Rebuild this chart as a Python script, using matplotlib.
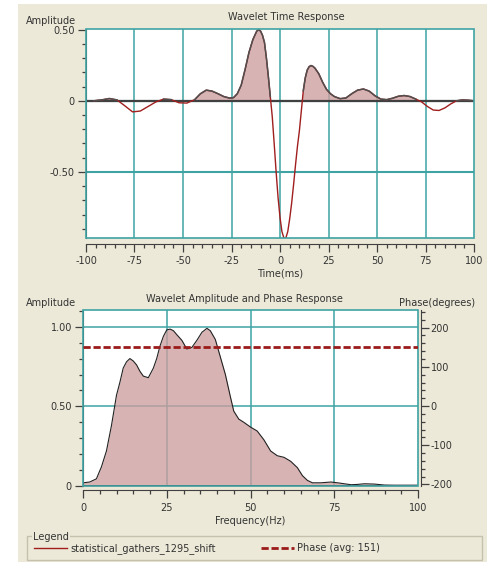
import matplotlib
matplotlib.use("Agg")
import matplotlib.pyplot as plt
import numpy as np
from matplotlib.patches import Rectangle
from matplotlib.ticker import MultipleLocator, FuncFormatter

# wavelet time response
time_ms = [-96, -92, -88, -84, -80, -76, -72, -68, -64, -60, -56, -52, -48, -44,
           -41, -38, -35, -32, -29, -26, -24, -22, -20, -18, -16, -14, -12, -11,
           -10, -9, -8, -7, -6, -5, -4, -3, -2, -1, 0, 1, 2, 3, 4, 5, 6, 7, 8,
           9, 10, 11, 12, 13, 14, 15, 16, 17, 18, 20, 22, 24, 26, 28, 31, 34,
           37, 40, 43, 46, 49, 52, 55, 58, 61, 64, 67, 70, 73, 76, 79, 82, 85,
           88, 91, 94, 97, 100]
amplitude = [0.000, 0.006, 0.016, 0.006, -0.035, -0.078, -0.072, -0.040, -0.008,
             0.012, 0.008, -0.014, -0.016, 0.008, 0.050, 0.075, 0.068, 0.050,
             0.030, 0.019, 0.022, 0.050, 0.110, 0.220, 0.340, 0.430, 0.490,
             0.500, 0.490, 0.460, 0.410, 0.300, 0.170, 0.030, -0.110, -0.300,
             -0.500, -0.680, -0.820, -0.920, -0.965, -0.965, -0.920, -0.830,
             -0.720, -0.590, -0.450, -0.320, -0.210, -0.070, 0.070, 0.160,
             0.215, 0.240, 0.248, 0.242, 0.230, 0.190, 0.130, 0.080, 0.050,
             0.030, 0.015, 0.020, 0.050, 0.075, 0.083, 0.068, 0.035, 0.012,
             0.008, 0.018, 0.032, 0.037, 0.030, 0.012, -0.008, -0.040, -0.065,
             -0.068, -0.050, -0.022, 0.000, 0.006, 0.004, 0.000]

# amplitude spectrum
freq_hz = [0, 2, 4, 5.5, 7, 8.5, 10, 11, 12, 13, 14, 15, 16, 17, 18, 19.5, 21,
           22, 23, 24, 25, 26, 27, 28, 29.5, 31, 32.5, 34, 35.5, 37, 38, 39.5,
           41, 42.5, 44, 45, 46.5, 48, 50, 52, 54, 56, 58, 60, 62, 64, 65.5, 67,
           68.5, 71, 74, 76, 78, 80, 82, 84, 87, 90, 93, 96, 100]
spec_amp = [0.020, 0.025, 0.045, 0.12, 0.22, 0.38, 0.57, 0.65, 0.74, 0.78, 0.80,
            0.785, 0.76, 0.72, 0.69, 0.68, 0.74, 0.80, 0.88, 0.94, 0.98, 0.985,
            0.975, 0.95, 0.915, 0.86, 0.87, 0.915, 0.965, 0.99, 0.975, 0.92,
            0.81, 0.70, 0.56, 0.47, 0.42, 0.40, 0.37, 0.345, 0.29, 0.22, 0.19,
            0.18, 0.155, 0.115, 0.065, 0.035, 0.02, 0.02, 0.025, 0.02, 0.014,
            0.008, 0.01, 0.014, 0.012, 0.006, 0.005, 0.005, 0.005]
phase_avg = 151
series_name = "statistical_gathers_1295_shift"

W, H = 487, 562
BG = "#ECE9D8"
TEAL = "#3FA3A3"
DARK = "#404040"
FILL = "#CD9E9E"
RED = "#A01E1E"
TXT = "#333333"

plt.rcParams["font.family"] = "DejaVu Sans"
plt.rcParams["font.size"] = 7
plt.rcParams["axes.unicode_minus"] = False


def fx(px):
    return px / W


def fy(py):
    return 1 - py / H


def style_axis(ax, bottom_off):
    for s in ["top", "right"]:
        ax.spines[s].set_visible(False)
    ax.spines["left"].set_color(DARK)
    ax.spines["bottom"].set_color(DARK)
    ax.spines["bottom"].set_position(("outward", bottom_off))
    ax.add_patch(Rectangle((0, 0), 1, 1, transform=ax.transAxes, fill=False,
                           edgecolor=TEAL, lw=1.2, clip_on=False, zorder=5))
    ax.tick_params(which="major", direction="out", length=6, width=0.9,
                   color=DARK, labelcolor=TXT, pad=2)
    ax.tick_params(which="minor", direction="out", length=3, width=0.9, color=DARK)
    ax.tick_params(axis="x", pad=3)


def amp_fmt(v, _):
    return "0" if abs(v) < 1e-9 else f"{v:.2f}"


fig = plt.figure(figsize=(W / 100, H / 100), dpi=100)
fig.patch.set_facecolor("white")
fig.add_artist(Rectangle((fx(18), 0), 1 - fx(18), fy(4), transform=fig.transFigure,
                         facecolor=BG, edgecolor="none", zorder=-10))

# ---- top: time response
ax1 = fig.add_axes([fx(86), fy(238), fx(474 - 86), (238 - 29) / H])
t = np.array(time_ms)
a = np.array(amplitude)
ax1.set_xlim(-100, 100)
ax1.set_ylim(-0.965, 0.505)
for xv in [-75, -50, -25, 0, 25, 50, 75]:
    ax1.axvline(xv, color=TEAL, lw=1.1, zorder=0.5)
for yv in [0, -0.5]:
    ax1.axhline(yv, color=TEAL, lw=1.5, zorder=0.5)
ax1.fill_between(t, a, 0, where=a > 0, interpolate=True, color=FILL, alpha=0.78,
                 lw=0, zorder=1)
ax1.axhline(0, color=DARK, lw=1.6, zorder=2)
line_main, = ax1.plot(t, a, color=RED, lw=1.0, zorder=3)
ax1.plot(t, np.where(a >= 0, a, np.nan), color="#505050", lw=1.1, zorder=3.5)
ax1.xaxis.set_major_locator(MultipleLocator(25))
ax1.xaxis.set_minor_locator(MultipleLocator(5))
ax1.yaxis.set_major_locator(MultipleLocator(0.5))
ax1.yaxis.set_minor_locator(MultipleLocator(0.1))
ax1.yaxis.set_major_formatter(FuncFormatter(amp_fmt))
style_axis(ax1, 4)

fig.text(fx(286), fy(17), "Wavelet Time Response", ha="center", va="center", color=TXT)
fig.text(fx(26), fy(21.5), "Amplitude", ha="left", va="center", color=TXT)
fig.text(fx(280), fy(274), "Time(ms)", ha="center", va="center", color=TXT)

# ---- bottom: amplitude and phase spectrum
ax2 = fig.add_axes([fx(83), fy(486), fx(418 - 83), (486 - 310) / H])
ax2.set_xlim(0, 100)
ax2.set_ylim(0, 1.105)
for xv in [25, 50, 75]:
    ax2.axvline(xv, color=TEAL, lw=1.1, zorder=0.5)
for yv in [0.5, 1.0]:
    ax2.axhline(yv, color=TEAL, lw=1.1, zorder=0.5)
ax2.fill_between(freq_hz, spec_amp, 0, color=FILL, alpha=0.78, lw=0, zorder=1)
ax2.plot(freq_hz, spec_amp, color="#222222", lw=0.8, zorder=3)
ax2.axhline(0, color=DARK, lw=1.4, zorder=3)
ax2.xaxis.set_major_locator(MultipleLocator(25))
ax2.xaxis.set_minor_locator(MultipleLocator(5))
ax2.yaxis.set_major_locator(MultipleLocator(0.5))
ax2.yaxis.set_minor_locator(MultipleLocator(0.1))
ax2.yaxis.set_major_formatter(FuncFormatter(amp_fmt))
style_axis(ax2, 3)

ax3 = ax2.twinx()
ax3.set_ylim(-204, 245)
line_phase = ax3.axhline(phase_avg, color="#9B1B1B", lw=2.0, dashes=(2.6, 1.0),
                         zorder=4)
for s in ["top", "left", "bottom"]:
    ax3.spines[s].set_visible(False)
ax3.spines["right"].set_color(DARK)
ax3.spines["right"].set_position(("outward", 2))
ax3.yaxis.set_major_locator(MultipleLocator(100))
ax3.yaxis.set_minor_locator(MultipleLocator(20))
ax3.tick_params(which="major", direction="out", length=6, width=0.9, color=DARK,
                labelcolor=TXT, pad=1)
ax3.tick_params(which="minor", direction="out", length=3, width=0.9, color=DARK)

fig.text(fx(244), fy(299), "Wavelet Amplitude and Phase Response", ha="center",
         va="center", color=TXT)
fig.text(fx(26), fy(303), "Amplitude", ha="left", va="center", color=TXT)
fig.text(fx(475), fy(303), "Phase(degrees)", ha="right", va="center", color=TXT)
fig.text(fx(250), fy(521.5), "Frequency(Hz)", ha="center", va="center", color=TXT)

# ---- legend group box
fig.add_artist(Rectangle((fx(27), fy(560)), fx(482 - 27), (560 - 536) / H,
                         transform=fig.transFigure, fill=False,
                         edgecolor="#C5C1AE", lw=1.0))
fig.text(fx(33), fy(536.5), "Legend", ha="left", va="center", color=TXT,
         bbox=dict(facecolor=BG, edgecolor="none", pad=0.8))
fig.legend([line_main, line_phase], [series_name, f"Phase (avg: {phase_avg})"],
           ncol=2, frameon=False, loc="center left",
           bbox_to_anchor=(fx(34), fy(548.5)), borderpad=0, borderaxespad=0,
           handlelength=3.4, handletextpad=0.35, columnspacing=4.6,
           labelcolor=TXT)

fig.savefig("out.png", dpi=100)
